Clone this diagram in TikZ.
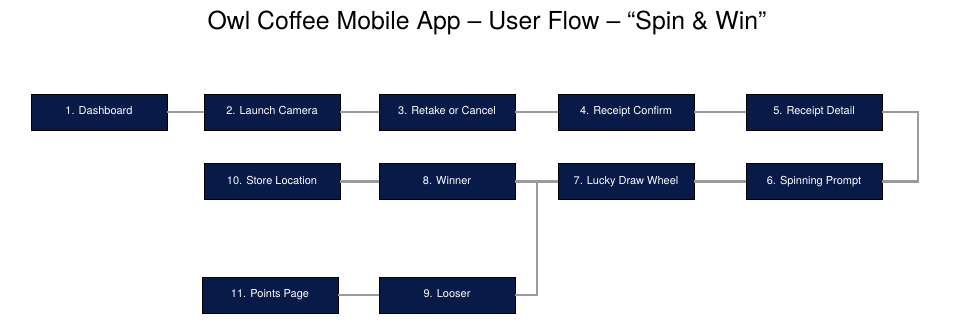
\documentclass[tikz,border=0pt]{standalone}
\usepackage{fontspec}
\setmainfont{TeX Gyre Heros}
\definecolor{owlnavy}{RGB}{8,26,72}
\definecolor{owlgray}{RGB}{155,155,155}
\tikzset{
  screen/.style = {
    draw=black, line width=0.8pt, fill=owlnavy, text=white,
    minimum width=136pt, minimum height=36pt, inner sep=0pt,
    text height=8pt, text depth=2.4pt,
    font=\fontsize{11}{13}\selectfont
  },
  link/.style = {draw=owlgray, line width=2.6pt}
}

\begin{document}
\begin{tikzpicture}[x=1pt,y=-1pt]
\useasboundingbox (0,0) rectangle (960,329);

% title
\node (title) at (487,23) {\fontsize{24.8}{29}\selectfont Owl Coffee Mobile App – User Flow – “Spin \& Win”};

% screens
\foreach \nm/\x/\y/\txt in {
    dash/99/112/1. Dashboard,
    cam/272/112/2. Launch Camera,
    retake/447/112/3. Retake or Cancel,
    rconf/626/112/4. Receipt Confirm,
    rdet/814/112/5. Receipt Detail,
    spin/814/181.5/6. Spinning Prompt,
    wheel/626/181.5/7. Lucky Draw Wheel,
    winner/447/181.5/8. Winner,
    looser/447/295/9. Looser,
    store/272/181.5/10. Store Location,
    points/270/295/11. Points Page}
  \node[screen] (\nm) at (\x,\y) {\txt};

% turn points
\coordinate (turnR) at (918,147);
\coordinate (fork) at (537,181.5);

% connectors
\draw[link] (dash) -- (cam);
\draw[link] (cam) -- (retake);
\draw[link] (retake) -- (rconf);
\draw[link] (rconf) -- (rdet);
\draw[link] (rdet.east) -| (turnR) |- (spin.east);
\draw[link] (spin) -- (wheel);
\draw[link] (wheel) -- (winner);
\draw[link] (winner) -- (store);
\draw[link] (fork) |- (looser.east);
\draw[link] (looser) -- (points);
\end{tikzpicture}
\end{document}
